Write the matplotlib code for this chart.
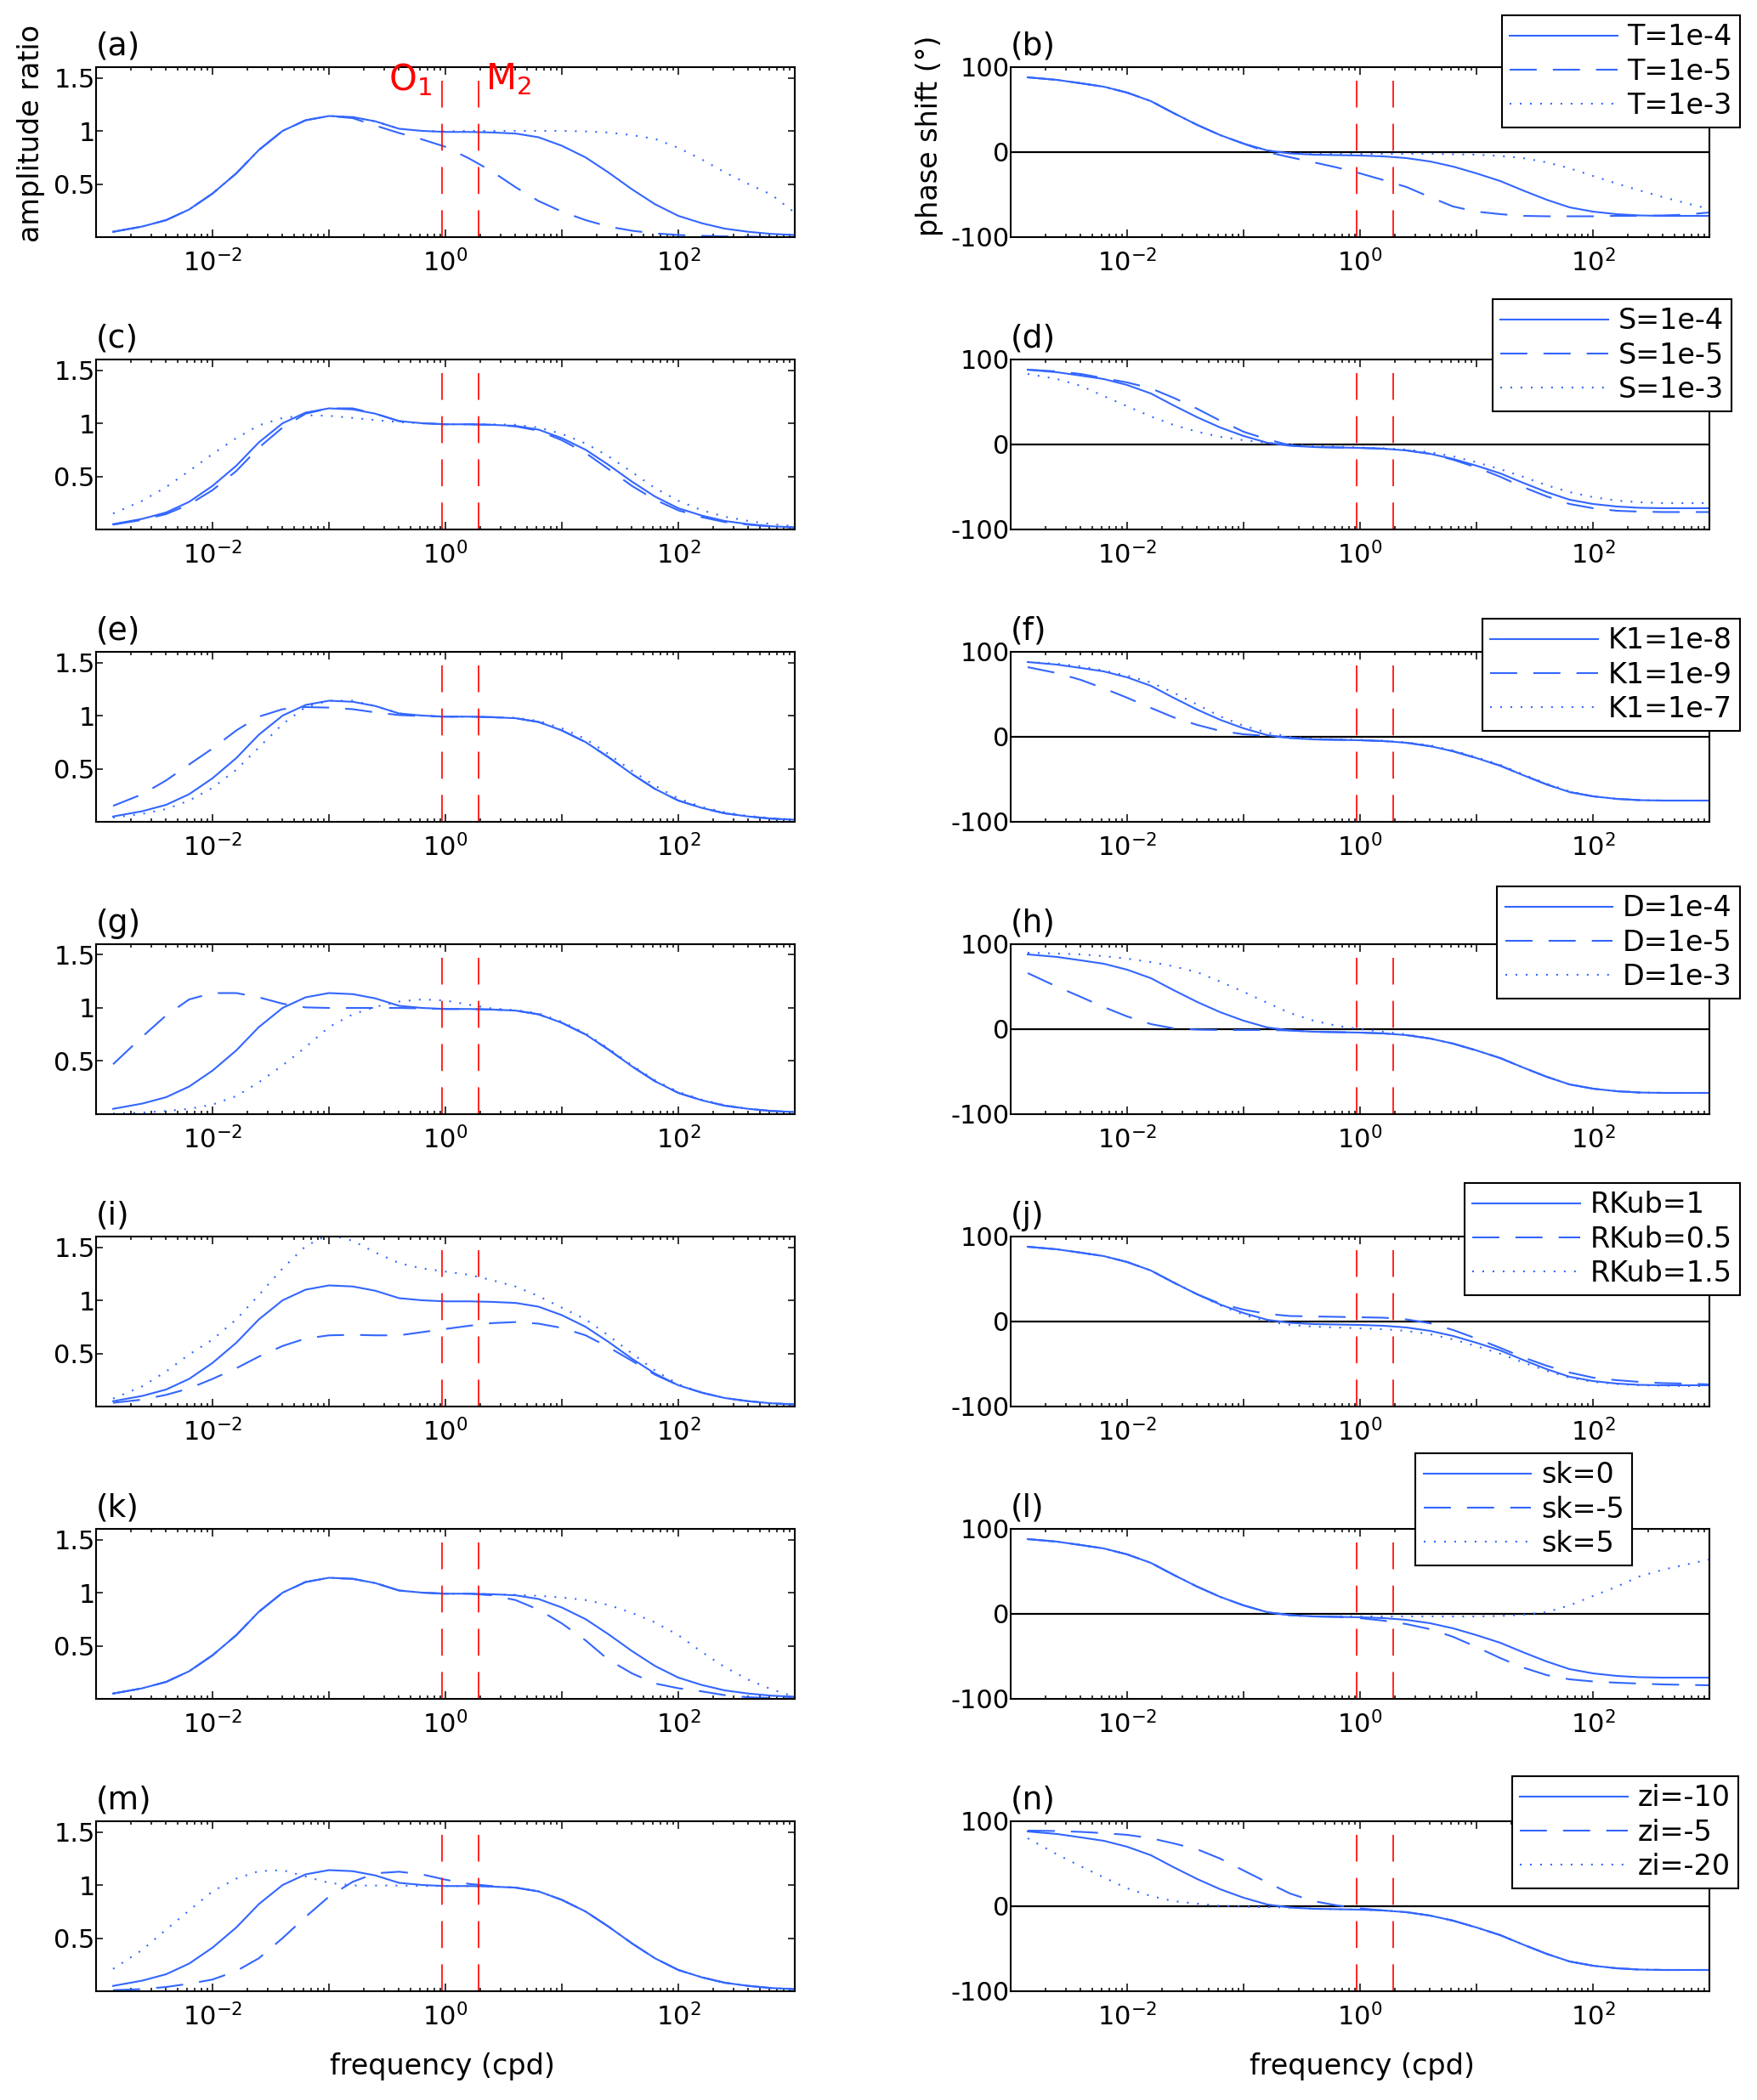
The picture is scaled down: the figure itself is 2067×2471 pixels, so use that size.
import matplotlib
matplotlib.use("Agg")
import matplotlib.pyplot as plt
from matplotlib.ticker import LogLocator, NullFormatter, FixedLocator, FixedFormatter

plt.rcParams['font.family'] = ['DejaVu Sans']
plt.rcParams['axes.unicode_minus'] = False

# ---------------- data ----------------
freq = [0.0014, 0.0025, 0.004, 0.0063, 0.01, 0.016, 0.025, 0.04, 0.063, 0.1,
        0.16, 0.25, 0.4, 0.63, 1.0, 1.6, 2.5, 4.0, 6.3, 10,
        16, 25, 40, 63, 100, 160, 250, 400, 630, 1000]

amp_base = [0.05,0.10,0.16,0.26,0.41,0.60,0.82,1.00,1.10,1.14,1.13,1.09,1.02,1.00,0.99,0.99,0.985,0.975,0.94,0.86,0.75,0.61,0.45,0.31,0.20,0.13,0.08,0.05,0.03,0.02]
phase_base = [88,85,81,77,70,60,46,32,20,10,2,-1.5,-3,-3.5,-4,-5,-7,-11,-17,-25,-34,-45,-56,-65,-70,-73,-74.5,-75,-75,-75]

amp_T5 = [0.05,0.10,0.16,0.26,0.41,0.60,0.82,1.00,1.10,1.14,1.12,1.05,0.98,0.92,0.85,0.74,0.62,0.47,0.34,0.24,0.16,0.10,0.06,0.035,0.02,0.012,0.007,0.004,0.002,0.001]
amp_T3 = [0.05,0.10,0.16,0.26,0.41,0.60,0.82,1.00,1.10,1.14,1.13,1.09,1.02,1.00,0.995,1.0,1.0,1.0,1.0,1.0,0.995,0.985,0.96,0.925,0.84,0.73,0.61,0.50,0.40,0.23]
phase_T5 = [88,85,81,77,70,60,46,32,20,10,0,-6,-12,-18,-25,-33,-41,-53,-64,-70,-73,-75,-75.5,-75.5,-75.5,-75,-75,-74.5,-73.5,-71]
phase_T3 = [88,85,81,77,70,60,46,32,20,10,2,-1,-2,-2,-2,-2,-2,-2,-2.5,-3,-4.5,-7,-12,-19,-28,-37,-45,-53,-60,-67]

amp_S5 = [0.045,0.09,0.145,0.235,0.37,0.55,0.77,0.96,1.09,1.14,1.14,1.09,1.02,1.0,0.99,0.99,0.985,0.97,0.93,0.84,0.72,0.57,0.41,0.28,0.18,0.115,0.07,0.045,0.028,0.018]
amp_S3 = [0.15,0.27,0.40,0.55,0.71,0.86,0.98,1.05,1.075,1.07,1.05,1.03,1.01,1.0,0.99,0.99,0.99,0.985,0.96,0.90,0.81,0.69,0.54,0.39,0.27,0.18,0.12,0.08,0.05,0.03]
phase_S5 = [88,86,83,78,73,66,55,42,28,15,6,-1,-3,-3.5,-4,-5,-7,-11,-18,-27,-38,-50,-61,-70,-75,-78,-79,-79.5,-79.5,-79.5]
phase_S3 = [83,77,69,57,45,33,23,15,9,5,2,0,-1.5,-2.5,-3.5,-4.5,-6,-9,-14,-21,-29,-38,-48,-56,-62,-66,-68,-69,-69,-69]

amp_K9 = [0.15,0.26,0.39,0.54,0.69,0.86,0.99,1.06,1.08,1.075,1.06,1.03,1.005,0.995,0.99,0.99,0.985,0.975,0.94,0.86,0.75,0.61,0.45,0.31,0.20,0.13,0.08,0.05,0.03,0.02]
amp_K7 = [0.04,0.075,0.12,0.20,0.32,0.49,0.70,0.92,1.08,1.14,1.14,1.09,1.02,1.0,0.99,0.99,0.985,0.98,0.95,0.88,0.78,0.64,0.48,0.34,0.22,0.14,0.09,0.055,0.035,0.02]
phase_K9 = [82,75,67,57,46,34,23,14,7,3,1,-1,-3,-3.5,-4,-5,-7,-11,-17,-25,-34,-45,-56,-65,-70,-73,-74.5,-75,-75,-75]
phase_K7 = [88,86,83,78,72,64,52,38,24,13,5,0,-2.5,-3,-3.5,-4.5,-6.5,-10,-16,-24,-33,-44,-55,-64,-70,-73,-74.5,-75,-75,-75]

amp_D5 = [0.47,0.73,0.93,1.08,1.14,1.14,1.10,1.04,1.005,1.0,1.0,1.0,1.0,0.995,0.99,0.99,0.985,0.975,0.94,0.86,0.75,0.61,0.45,0.31,0.20,0.13,0.08,0.05,0.03,0.02]
amp_D3 = [0.005,0.015,0.03,0.05,0.09,0.17,0.30,0.46,0.63,0.82,0.94,1.01,1.06,1.08,1.07,1.03,0.995,0.98,0.95,0.87,0.76,0.62,0.46,0.32,0.21,0.135,0.085,0.05,0.03,0.02]
phase_D5 = [66,50,38,26,15,6,1,-0.5,-1,-1,-1,-1.5,-3,-3.5,-4,-5,-7,-11,-17,-25,-34,-45,-56,-65,-70,-73,-74.5,-75,-75,-75]
phase_D3 = [90,89,88,86,83,79,74,67,56,44,31,19,10,4,0,-3,-6,-11,-17,-25,-34,-45,-56,-65,-70,-73,-74.5,-75,-75,-75]

amp_R05 = [0.035,0.065,0.11,0.17,0.26,0.36,0.47,0.57,0.64,0.67,0.675,0.67,0.67,0.70,0.73,0.76,0.785,0.795,0.78,0.74,0.67,0.56,0.43,0.30,0.20,0.13,0.08,0.05,0.03,0.02]
amp_R15 = [0.075,0.19,0.33,0.49,0.63,0.82,1.05,1.30,1.51,1.62,1.56,1.45,1.35,1.30,1.27,1.24,1.19,1.13,1.04,0.93,0.82,0.67,0.50,0.34,0.21,0.13,0.08,0.05,0.03,0.02]
phase_R05 = [88,85,81,77,70,60,46,32,21,14,9,6.5,6,5.5,5,4.5,2.5,-2,-10,-20,-31,-42,-52,-60,-66,-69,-71,-72.5,-73,-74]
phase_R15 = [88,85,81,77,70,60,46,32,19,8,0,-4,-6,-7,-8,-9,-11,-15,-21,-29,-38,-48,-58,-66,-71,-73.5,-75,-75.5,-76,-76]

amp_skm5 = [0.05,0.10,0.16,0.26,0.41,0.60,0.82,1.00,1.10,1.14,1.13,1.09,1.02,1.00,0.99,0.99,0.975,0.93,0.84,0.71,0.55,0.37,0.24,0.145,0.10,0.07,0.035,0.015,0.008,0.005]
amp_sk5 = [0.05,0.10,0.16,0.26,0.41,0.60,0.82,1.00,1.10,1.14,1.13,1.09,1.02,1.00,0.99,0.99,0.985,0.98,0.97,0.955,0.93,0.885,0.81,0.72,0.60,0.44,0.30,0.18,0.09,0.02]
phase_skm5 = [88,85,81,77,70,60,46,32,20,10,2,-1.5,-3,-3.5,-5,-8,-12,-18,-27,-39,-52,-63,-72,-77,-79.5,-81,-82,-83,-83.5,-84]
phase_sk5 = [88,85,81,77,70,60,46,32,20,10,2,-1.5,-3,-3,-3,-3,-3,-3,-3,-3,-2.5,-1,2,10,21,32,44,52,58,64]

amp_zi5 = [0.01,0.02,0.04,0.07,0.11,0.19,0.31,0.50,0.70,0.89,1.03,1.11,1.125,1.10,1.05,1.01,0.99,0.975,0.94,0.86,0.75,0.61,0.45,0.31,0.20,0.13,0.08,0.05,0.03,0.02]
amp_zi20 = [0.21,0.39,0.58,0.76,0.94,1.06,1.13,1.14,1.08,1.02,0.995,0.995,0.995,0.99,0.99,0.99,0.985,0.975,0.94,0.86,0.75,0.61,0.45,0.31,0.20,0.13,0.08,0.05,0.03,0.02]
phase_zi5 = [89,88.5,87.5,86,84,80,74,67,56,42,28,15,6,1,-2.5,-5,-7,-11,-17,-25,-34,-45,-56,-65,-70,-73,-74.5,-75,-75,-75]
phase_zi20 = [80,61,47,34,21,12,6,3,0.5,-0.5,-1,-1.5,-3,-3.5,-4,-5,-7,-11,-17,-25,-34,-45,-56,-65,-70,-73,-74.5,-75,-75,-75]

legend_labels = [
    ["T=1e-4", "T=1e-5", "T=1e-3"],
    ["S=1e-4", "S=1e-5", "S=1e-3"],
    ["K1=1e-8", "K1=1e-9", "K1=1e-7"],
    ["D=1e-4", "D=1e-5", "D=1e-3"],
    ["RKub=1", "RKub=0.5", "RKub=1.5"],
    ["sk=0", "sk=-5", "sk=5"],
    ["zi=-10", "zi=-5", "zi=-20"],
]
panel_letters = ["a", "b", "c", "d", "e", "f", "g", "h", "i", "j", "k", "l", "m", "n"]
tide_freq = [0.9295, 1.9323]   # O1, M2 (cpd)

amp_rows = [
    (amp_base, amp_T5, amp_T3),
    (amp_base, amp_S5, amp_S3),
    (amp_base, amp_K9, amp_K7),
    (amp_base, amp_D5, amp_D3),
    (amp_base, amp_R05, amp_R15),
    (amp_base, amp_skm5, amp_sk5),
    (amp_base, amp_zi5, amp_zi20),
]
phase_rows = [
    (phase_base, phase_T5, phase_T3),
    (phase_base, phase_S5, phase_S3),
    (phase_base, phase_K9, phase_K7),
    (phase_base, phase_D5, phase_D3),
    (phase_base, phase_R05, phase_R15),
    (phase_base, phase_skm5, phase_sk5),
    (phase_base, phase_zi5, phase_zi20),
]

# ---------------- styling ----------------
W, H = 2067, 2471
BLUE = '#3366ff'
LW = 1.5
styles = [dict(linestyle='-'),
          dict(linestyle=(0, (15.3, 9.1))),
          dict(linestyle=(0, (0.95, 4.8)))]

# legend upper-right corners in pixels (x_right, y_top)
legend_anchor = [(2047, 18), (2037, 352), (2047, 728), (2047, 1043),
                 (2047, 1392), (1920, 1710), (2045, 2090)]

fig = plt.figure(figsize=(W / 100, H / 100), dpi=100)
fig.patch.set_facecolor('white')

ax_w = 822 / W
ax_h = 200 / H
left_x = [113 / W, 1189 / W]
tops = [79, 423, 767, 1111, 1455, 1799, 2143]


def style_axis(ax):
    ax.set_xscale('log')
    ax.set_xlim(1e-3, 1e3)
    ax.xaxis.set_major_locator(FixedLocator([1e-3, 1e-2, 1e-1, 1, 10, 100, 1e3]))
    ax.xaxis.set_major_formatter(FixedFormatter(
        ['', r'$10^{-2}$', '', r'$10^{0}$', '', r'$10^{2}$', '']))
    ax.xaxis.set_minor_locator(LogLocator(base=10, subs=[2, 3, 4, 5, 6, 7, 8, 9], numticks=20))
    ax.xaxis.set_minor_formatter(NullFormatter())
    ax.tick_params(axis='both', which='both', direction='in', top=True, right=True,
                   width=1.1, labelsize=22)
    ax.tick_params(axis='x', which='major', length=6.5, pad=10)
    ax.tick_params(axis='x', which='minor', length=3.2)
    ax.tick_params(axis='y', which='major', length=5.5, pad=1)
    for s in ax.spines.values():
        s.set_linewidth(1.5)


for r in range(7):
    bottom = 1 - (tops[r] + 200) / H
    # ---- amplitude ----
    ax = fig.add_axes([left_x[0], bottom, ax_w, ax_h])
    style_axis(ax)
    for series, st in zip(amp_rows[r], styles):
        ax.plot(freq, series, color=BLUE, lw=LW, **st)
    for f in tide_freq:
        ax.axvline(f, ymin=0, ymax=0.92, color='red', lw=1.2, linestyle=(0, (19, 11.5)))
    ax.set_ylim(0, 1.6)
    ax.yaxis.set_major_locator(FixedLocator([0.5, 1, 1.5]))
    ax.yaxis.set_major_formatter(FixedFormatter(['0.5', '1', '1.5']))
    ax.text(0.0, 1.03, '(%s)' % panel_letters[2 * r], transform=ax.transAxes,
            ha='left', va='bottom', fontsize=27)
    if r == 0:
        trans = ax.get_xaxis_transform()
        ax.text(0.76, 1.035, r'O$_1$', transform=trans, ha='right', va='top',
                color='red', fontsize=30, clip_on=False)
        ax.text(2.2, 1.035, r'M$_2$', transform=trans, ha='left', va='top',
                color='red', fontsize=30, clip_on=False)

    # ---- phase ----
    axp = fig.add_axes([left_x[1], bottom, ax_w, ax_h])
    style_axis(axp)
    axp.axhline(0, color='black', lw=1.6, zorder=1)
    handles = []
    for series, st, lab in zip(phase_rows[r], styles, legend_labels[r]):
        h, = axp.plot(freq, series, color=BLUE, lw=LW, label=lab, **st)
        handles.append(h)
    for f in tide_freq:
        axp.axvline(f, ymin=0, ymax=0.92, color='red', lw=1.2, linestyle=(0, (19, 11.5)))
    axp.set_ylim(-100, 100)
    axp.yaxis.set_major_locator(FixedLocator([-100, 0, 100]))
    axp.yaxis.set_major_formatter(FixedFormatter(['-100', '0', '100']))
    axp.text(0.0, 1.03, '(%s)' % panel_letters[2 * r + 1], transform=axp.transAxes,
             ha='left', va='bottom', fontsize=27)
    xr, yt = legend_anchor[r]
    leg = axp.legend(handles=handles, loc='upper right',
                     bbox_to_anchor=(xr / W, 1 - yt / H), bbox_transform=fig.transFigure,
                     fontsize=24, handlelength=3.8, handletextpad=0.35,
                     borderpad=0.28, labelspacing=0.22, borderaxespad=0.0,
                     fancybox=False, framealpha=1.0, edgecolor='black')
    leg.get_frame().set_linewidth(1.5)
    leg.set_zorder(10)

fig.text(37 / W, 1 - 157 / H, 'amplitude ratio', rotation=90, ha='center', va='center', fontsize=24)
fig.text(1093 / W, 1 - 160 / H, 'phase shift (°)', rotation=90, ha='center', va='center', fontsize=24)
fig.text(520 / W, 1 - 2432 / H, 'frequency (cpd)', ha='center', va='center', fontsize=24)
fig.text(1602 / W, 1 - 2432 / H, 'frequency (cpd)', ha='center', va='center', fontsize=24)

fig.savefig('out.png', dpi=100, facecolor='white')
